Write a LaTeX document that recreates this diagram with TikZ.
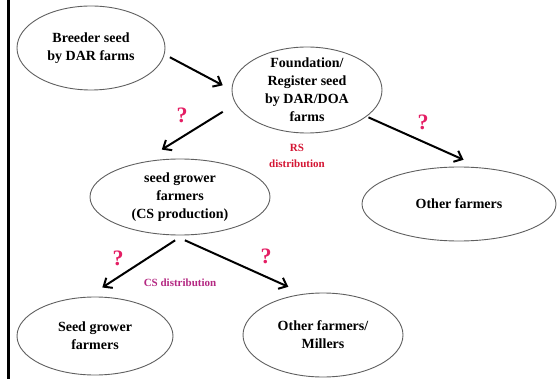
\documentclass[tikz,border=0pt]{standalone}
\usepackage{fontspec}
\setmainfont{Liberation Serif}
\usetikzlibrary{shapes.geometric,arrows.meta}
\definecolor{qmark}{RGB}{228,30,100}
\definecolor{rsred}{RGB}{212,22,52}
\definecolor{cspurple}{RGB}{180,40,130}
\definecolor{rim}{RGB}{95,95,95}
\begin{document}
\begin{tikzpicture}[x=1pt,y=-1pt,
  stagetext/.style={align=center, inner sep=0pt, font=\bfseries\fontsize{14}{18}\selectfont},
  stage/.style={ellipse, draw=rim, line width=0.9pt, inner sep=0pt,
    label={[stagetext]center:#1}},
  flow/.style={line width=2pt, -{Straight Barb[length=7pt,width=12pt,line width=2pt]}},
  query/.style={text=qmark, inner sep=0pt, font=\bfseries\fontsize{22}{22}\selectfont},
  note/.style={align=center, inner sep=0pt, font=\bfseries\fontsize{11}{16}\selectfont}]
\useasboundingbox (0,0) rectangle (559,379);
% frame rule on the left
\draw[line width=3pt] (8,0) -- (8,379);

% seed stages
\node[stage={Breeder seed\\by DAR farms}, minimum width=148pt, minimum height=84pt] (breeder) at (91,48) {};
\node[stage={Foundation/\\Register seed\\by DAR/DOA\\farms}, minimum width=150pt, minimum height=86pt] (found) at (307,90) {};
\node[stage={seed grower\\farmers\\(CS production)}, minimum width=180pt, minimum height=76pt] (grower) at (180,197) {};
\node[stage={Other farmers}, minimum width=194pt, minimum height=74pt] (other) at (459,204) {};
\node[stage={Seed grower\\farmers}, minimum width=156pt, minimum height=78pt] (sgf) at (95,336) {};
\node[stage={Other farmers/\\Millers}, minimum width=160pt, minimum height=84pt] (millers) at (323,335) {};

% flows
\draw[flow, shorten <=6pt, shorten >=10pt] (breeder.-5) -- (found.180);
\draw[flow, shorten <=15pt, shorten >=24pt] (found.-169) -- (grower.138);
\draw[flow, shorten <=2pt, shorten >=19pt] (found.-24) -- (other.59.5);
\draw[flow, shorten <=9pt, shorten >=17pt] (grower.-86) -- (sgf.100);
\draw[flow, shorten <=12pt, shorten >=17pt] (grower.-99) -- (millers.115.5);

% open questions
\node[query] (q1) at (182,115) {?};
\node[query] (q2) at (423,122) {?};
\node[query] (q3) at (118,258) {?};
\node[query] (q4) at (266,256) {?};

% distribution notes
\node[note, text=rsred] (rs) at (297,156) {RS\\distribution};
\node[note, text=cspurple] (cs) at (180,283) {CS distribution};
\end{tikzpicture}
\end{document}
